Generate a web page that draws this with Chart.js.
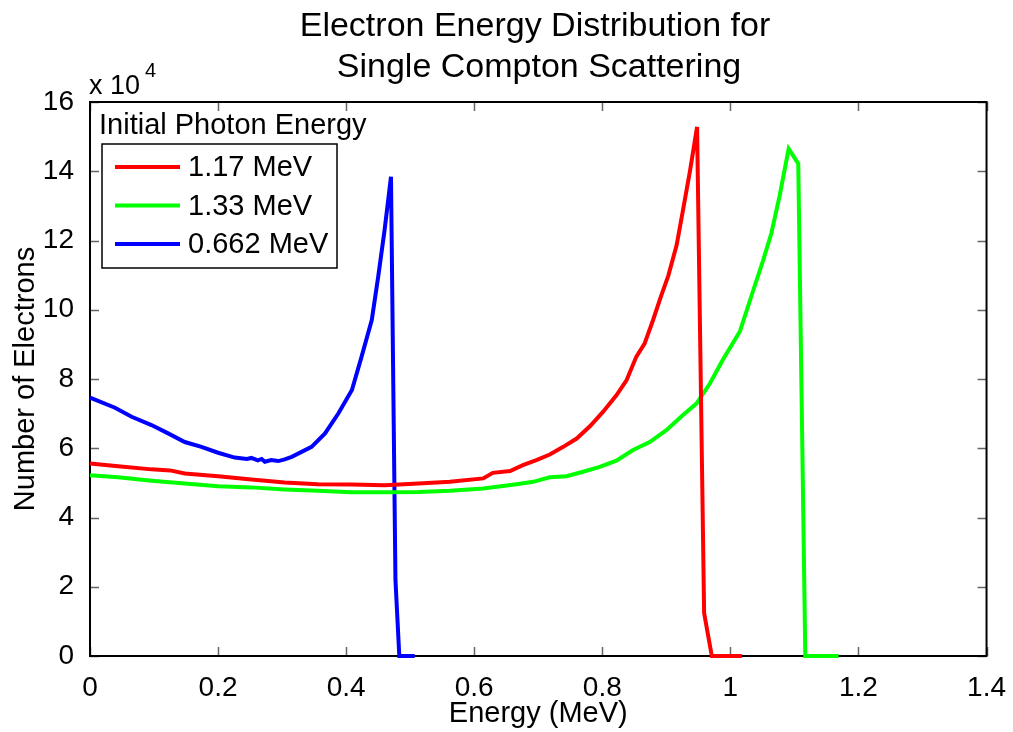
<!DOCTYPE html>
<html>
<head>
<meta charset="utf-8">
<script src="https://cdn.jsdelivr.net/npm/chart.js@4/dist/chart.umd.min.js"></script>
<style>
  body { margin: 0; background: #fff; }
  #wrap { width: 1013px; height: 732px; }
</style>
</head>
<body>
<div id="wrap"><canvas id="chart" width="1013" height="732"></canvas></div>
<script>
// values (energy in MeV, counts)
var seriesLabels = ['1.17 MeV', '1.33 MeV', '0.662 MeV'];
var seriesColors = ['#ff0000', '#00ff00', '#0000ff'];

var energy117 = [0, 0.044, 0.096, 0.125, 0.148, 0.200, 0.252, 0.304, 0.356, 0.408, 0.460, 0.513, 0.562, 0.614,
  0.629, 0.656, 0.676, 0.697, 0.718, 0.739, 0.760, 0.781, 0.801, 0.822, 0.838, 0.853, 0.866, 0.879,
  0.892, 0.903, 0.916, 0.926, 0.937, 0.948, 0.959, 0.971, 1.018];
var counts117 = [55600, 54800, 53900, 53600, 52700, 51900, 51000, 50100, 49600, 49500, 49300, 49800, 50300, 51300,
  52900, 53400, 55100, 56600, 58200, 60400, 62800, 66400, 70500, 75300, 79700, 86400, 90200, 96900,
  104100, 109800, 118600, 128800, 140200, 152800, 12400, 0, 0];

var energy133 = [0, 0.044, 0.096, 0.148, 0.200, 0.252, 0.304, 0.356, 0.408, 0.460, 0.513, 0.562, 0.614,
  0.666, 0.692, 0.718, 0.744, 0.770, 0.796, 0.822, 0.848, 0.874, 0.900, 0.926, 0.947, 0.968, 0.988,
  1.015, 1.035, 1.051, 1.064, 1.077, 1.091, 1.106, 1.117, 1.169];
var counts133 = [52200, 51600, 50600, 49800, 49000, 48700, 48100, 47700, 47300, 47300, 47400, 47700, 48400,
  49600, 50300, 51600, 51900, 53200, 54600, 56400, 59500, 61800, 65200, 69600, 72900, 78700, 85500,
  93800, 105200, 114200, 122100, 133000, 146500, 142200, 0, 0];

var energy662 = [0, 0.039, 0.065, 0.096, 0.122, 0.148, 0.174, 0.200, 0.226, 0.245, 0.252, 0.262, 0.268, 0.273,
  0.283, 0.294, 0.304, 0.315, 0.346, 0.367, 0.388, 0.409, 0.424, 0.440, 0.450, 0.460, 0.470, 0.477, 0.483, 0.507];
var counts662 = [74600, 71700, 69100, 66700, 64300, 61800, 60400, 58700, 57300, 56900, 57200, 56500, 56900, 56100,
  56600, 56300, 56800, 57500, 60400, 64300, 70100, 76800, 86400, 97000, 109500, 123000, 138400, 21900, 0, 0];

var xTicks = [0, 0.2, 0.4, 0.6, 0.8, 1, 1.2, 1.4];
var yTicks = [0, 20000, 40000, 60000, 80000, 100000, 120000, 140000, 160000];

var FONT = "'Liberation Sans', Arial, Helvetica, sans-serif";

function toPoints(xs, ys) {
  return xs.map(function (x, i) { return { x: x, y: ys[i] }; });
}

var allEnergy = [energy117, energy133, energy662];
var allCounts = [counts117, counts133, counts662];
var datasets = seriesLabels.map(function (label, i) {
  return {
    label: label,
    data: toPoints(allEnergy[i], allCounts[i]),
    borderColor: seriesColors[i],
    backgroundColor: seriesColors[i],
    borderWidth: 4,
    pointRadius: 0,
    tension: 0,
    clip: 6
  };
});

// frame with inward ticks on all four sides
var framePlugin = {
  id: 'frame',
  beforeDatasetsDraw: function (chart) {
    var ctx = chart.ctx, a = chart.chartArea;
    var xs = chart.scales.x, ys = chart.scales.y;
    ctx.save();
    ctx.strokeStyle = '#666';
    ctx.lineWidth = 1.5;
    ctx.beginPath();
    xTicks.forEach(function (v) {
      var p = Math.round(xs.getPixelForValue(v)) + 0.5;
      ctx.moveTo(p, a.bottom); ctx.lineTo(p, a.bottom - 9);
      ctx.moveTo(p, a.top); ctx.lineTo(p, a.top + 9);
    });
    yTicks.forEach(function (v) {
      var p = Math.round(ys.getPixelForValue(v)) + 0.5;
      ctx.moveTo(a.left, p); ctx.lineTo(a.left + 9, p);
      ctx.moveTo(a.right, p); ctx.lineTo(a.right - 9, p);
    });
    ctx.stroke();
    ctx.strokeStyle = '#000';
    ctx.lineWidth = 2;
    ctx.strokeRect(a.left, a.top, a.right - a.left, a.bottom - a.top);
    ctx.restore();
  },
  afterDraw: function (chart) {
    var ctx = chart.ctx;
    ctx.save();
    ctx.fillStyle = '#000';
    // title
    ctx.font = '34px ' + FONT;
    ctx.textAlign = 'center';
    ctx.textBaseline = 'middle';
    ctx.fillText('Electron Energy Distribution for', 535, 27);
    ctx.fillText('Single Compton Scattering', 539, 68);
    // exponent label
    ctx.textAlign = 'left';
    ctx.textBaseline = 'alphabetic';
    ctx.font = '27px ' + FONT;
    ctx.fillText('x 10', 89, 94);
    ctx.font = '20px ' + FONT;
    ctx.fillText('4', 145, 77);
    // legend
    ctx.font = '29px ' + FONT;
    ctx.textBaseline = 'middle';
    ctx.fillText('Initial Photon Energy', 99, 126);
    var bx = 102, by = 144, bw = 235, bh = 124;
    ctx.fillStyle = '#fff';
    ctx.fillRect(bx, by, bw, bh);
    ctx.strokeStyle = '#000';
    ctx.lineWidth = 1.5;
    ctx.strokeRect(bx, by, bw, bh);
    var rows = [167, 205.5, 244];
    chart.data.datasets.forEach(function (ds, i) {
      ctx.strokeStyle = ds.borderColor;
      ctx.lineWidth = 4;
      ctx.beginPath();
      ctx.moveTo(115, rows[i]);
      ctx.lineTo(180, rows[i]);
      ctx.stroke();
      ctx.fillStyle = '#000';
      ctx.fillText(ds.label, 188, rows[i] + 1);
    });
    ctx.restore();
  }
};

new Chart(document.getElementById('chart'), {
  type: 'line',
  data: { datasets: datasets },
  plugins: [framePlugin],
  options: {
    responsive: false,
    animation: false,
    layout: { padding: { top: 102, right: 26, left: 0, bottom: 0 } },
    plugins: {
      legend: { display: false },
      title: { display: false },
      tooltip: { enabled: false }
    },
    scales: {
      x: {
        type: 'linear',
        min: 0,
        max: 1.4,
        afterFit: function (s) { s.height = 76; },
        afterBuildTicks: function (s) { s.ticks = xTicks.map(function (v) { return { value: v }; }); },
        grid: { display: false },
        border: { display: false },
        ticks: {
          color: '#000',
          padding: 7,
          font: { family: FONT, size: 28 },
          maxRotation: 0,
          callback: function (v) { return String(Math.round(v * 10) / 10); }
        },
        title: {
          display: true,
          text: 'Energy (MeV)',
          color: '#000',
          font: { family: FONT, size: 29 },
          padding: { top: 0, bottom: 1 }
        }
      },
      y: {
        min: 0,
        max: 160000,
        afterFit: function (s) { s.width = 90; },
        afterBuildTicks: function (s) { s.ticks = yTicks.map(function (v) { return { value: v }; }); },
        grid: { display: false },
        border: { display: false },
        ticks: {
          color: '#000',
          padding: 8,
          font: { family: FONT, size: 28 },
          callback: function (v) { return String(v / 10000); }
        },
        title: {
          display: true,
          text: 'Number of Electrons',
          color: '#000',
          font: { family: FONT, size: 29 },
          padding: { top: 9, bottom: 0 }
        }
      }
    }
  }
});
</script>
</body>
</html>
